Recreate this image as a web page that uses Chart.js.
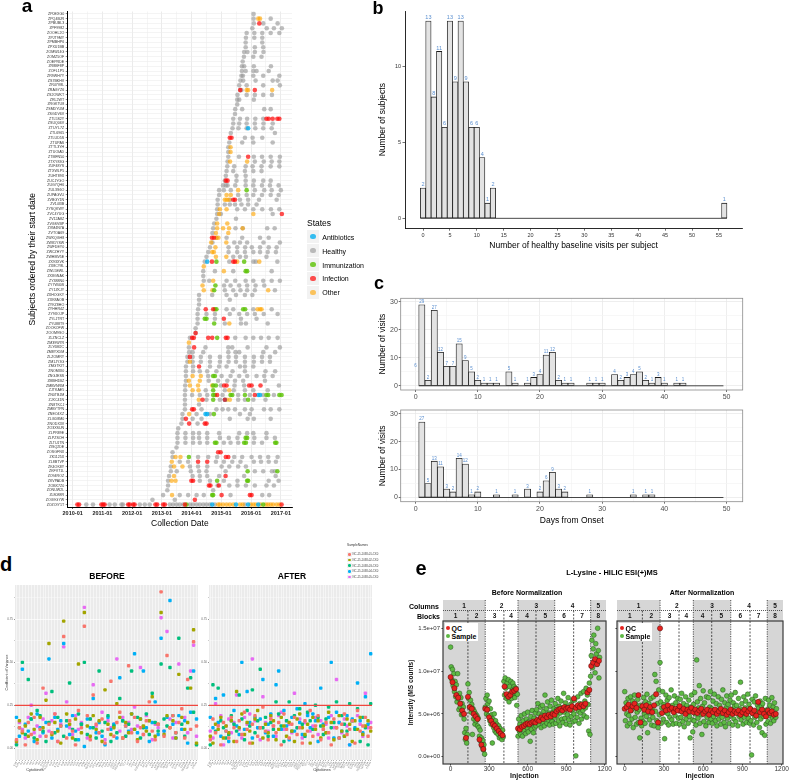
<!DOCTYPE html>
<html><head><meta charset="utf-8">
<title>Figure</title>
<script src="https://cdn.jsdelivr.net/npm/chart.js@4.4.1/dist/chart.umd.min.js"></script>
<style>
html,body{margin:0;padding:0;background:#fff}
body{width:790px;height:780px;position:relative;overflow:hidden;font-family:"Liberation Sans",Arial,sans-serif;color:#000}
canvas{position:absolute;display:block}
.t{position:absolute;line-height:1;white-space:nowrap;transform:translate(-50%,-50%)}
.t.l{transform:translate(0,-50%)}
.sq{position:absolute}
.dot{position:absolute;border-radius:50%}
</style></head>
<body>
<canvas id="ca" width="300" height="535" style="left:0;top:0"></canvas>
<canvas id="cb" width="418" height="258" style="left:372px;top:0"></canvas>
<canvas id="cc1" width="418" height="143" style="left:372px;top:262px"></canvas>
<canvas id="cc2" width="418" height="125" style="left:372px;top:405px"></canvas>
<canvas id="cd1" width="202" height="205" style="left:0;top:575px"></canvas>
<canvas id="cd2" width="185" height="205" style="left:195px;top:575px"></canvas>
<canvas id="ce1" width="214" height="195" style="left:398px;top:585px"></canvas>
<canvas id="ce2" width="178" height="195" style="left:612px;top:585px"></canvas>
<script>
// ================= Panel a : visits per subject =================
const subjects = ["ZP0EXG0","ZPQ4BJR","ZPBUBL3","ZPF9982","ZOOHL2O","ZPJT9MY","ZPMBHP6","ZPXU1BB","ZOMWJ4G","ZOMZ5OF",
"ZOEPRDE","ZR8BF8P","ZOFL1P5","ZR9WH7Y","ZS7BKHV","ZR47V8L","ZRAGYZ6","ZS2OWKT","ZRL2WT","ZRGKTU8",
"ZSMDYUM","ZSGDV6V","ZTL5S2Y","ZSUQ06V","ZTUYL7Z","ZTL6965","ZTLUD5S","ZTUPAS","ZTTL3YH","ZTUOIAD",
"ZTMFN50","ZTXY83G","ZUF48YS","ZTXWLP5","ZUHT89X","ZUCJYGO","ZUG7QH6","ZUL3S6O","ZUPAGVU","ZVBGY1N",
"ZV14I3B","ZYSQKWY","ZVC4YUG","ZV12A8Z","ZVGSVBP","ZVM4N7A","ZVTOA69","ZWXQGH8","ZW81YSW","ZWFDEY0",
"ZWCZHYY","ZWHMV5E","ZX93XVK","ZX8CY8L","ZWL5EWL","ZX8GNAK","ZY388N0","ZY7W40S","ZY1ZKJY","ZXHOGKY",
"ZXK8AOB","ZYKZ8HO","ZYHHR4Z","ZY9XOJP","ZYLJTRT","ZYU88T9","ZOOKOFW","ZOOM9SO","ZLZNCLZ","ZM39W7R",
"ZLY6M2C","ZM8YXDM","ZLZOMRY","ZM1JY3G","ZMGTKIT","ZNOMXI0","ZNGJESS","ZMBH1BZ","ZMBVNRM","ZJTKAE5",
"ZN0TBJM","ZJXC41N","ZN8TKCJ","ZMBYTPN","ZNEO4XZ","ZLGD8M0","ZNODX3V","ZO3XSUN","ZLPR89E","ZLPZSOH",
"ZLTUJTN","ZISQ2DE","ZOSGFNX","ZK1125X","ZL8BTVP","ZK4OK8Y","ZKFV71L","ZO94ROZ","ZKVPADB","ZOBX7Z0",
"ZONUW2L","ZL8088R","ZOG9GYW","ZOZOIY1T"];
// each token: state code + months since 2010-01 (a=Antibiotics h=Healthy m=Immunization i=Infection o=Other)
const visitLog = [
"h73","h73 o74.9 o75.6 h79.9","h73.1 i75.3 h76.9 h82.7","h72.5 h78.3 h81.2 h84.4","h70.2 h73.3 h76.5 h79.9 h83.4",
"h69.9 h73.3 h76.5","h69.8 h76.5","h69.8 h73.5 h76.9","h69.2 h70.5 h73.5 h77","h69.1 h72.9 h76.2",
"h68.6","h68.3 h69.2 h73.1 h80","h68.3 h69.8 h72.9 h74.2 h79.1","h68.1 h68.7 h72.9 h76.9 h83.4","h67.7 h68.8 h73.8 h80.7 h82.7",
"h67.2 h70.2 h76.9 h83.6","h67.6 i67.6 h68.1 o70.2 o70.8 i73.5 o80.5","h66.5 h70.2 h73.5 h76.9 h80.4","h66.4 h67.2 h73.1","h66.4",
"h65.6 h68.4 h77.3 h79.9","h65.5","h64.8 h67.5 h70.4 h73.7 h76.9 i78.2 i79.1 i80.7 i82.6 i83.4","h64.8 h67.2 h70.2 h73.5 h77 h80.7","h64.5 h66.9 h70.2 a70.8 h73.7 h76.9 h80.3",
"h63.8 h81.6","i63.4 i64.1 h69.5 h72.6 h76.5","h63.2 h68.4 h72.9 h80.7","h62.8 o63.7","h62.8 o63.7",
"h62.8 h67.1 i70.8 h73.1 h76.4 h79.9 h83.6","h62.5 o63.5 o70.4 h73.5 h77.1 h80.3 h83.4","h62.4 h65.2 h69.8 h72.6 h76.2 h79.9 h83.4","h62.1 h64.8 h69.5 h72.9 h76.2","h61.8 h66.1 h69.8",
"h61.4 i61.8 i62.5 h66.1 h69.8 h73.1 h76.9 h79.9","h60.7 h61.8 h62.5 h65.6 h69.8 h72.9 h76.4 h79.6 h83.1","h59.1 h61 h63.8 o66.8 m70.2 h73.5 h77.3 h80.3 h84","h59.1 o62.1 o63.8 h66.8 h70.2 h72.9 h76.4 h79.9 h83.1","h58.5 o61.4 o62.1 h63.5 o63 i64.8 i65.5 h67.5 h70.8 h75.2 h82.3",
"h58.5 h61.4 h63.4 h65.5 h68.1 h70.8 h74.2","h58.3 o59.4 o62.1 h66.4 h69.5 h72.9 h76.5 h80 h83.4","h58.3 o59.1 h59.8 o72.9 h80.7 i84.4","h58 h65.9","h57.1 o58.3 o62.4",
"h56.7 o58.3 o60.7 o63.1 h65.7 h68.6 o68.6 h78.5 h81.5","h56.4 o57.8 o62.8","i56.2 i57 h58 o58 o58.8 h62.1 h68.4 h75.6 h79.1","o55.9 h56.4 o62 h65.2 h67.5 h70.4 h77 h83.6","h55.4 o57.6 h62.9 h66.4 h69.6 h72.3 h75.6 h79.1 h82.3",
"h54.7 o56.3 o57 h62.9 h66.4 h69.5 h72.9 h75.6 h78.7 h82","h54 o57.8 o62 h64.8 h67.5 h69.9 h78.2","h53.3 a54.3 i56.2 m58 h63.2 i64.8 i65.5 o66.4 m69.2 h72.9 h73.9 o75.3 h82.6","o52.9","h52.7 h57.4 o61 h64.8 m69.8 m70.4 h80.3",
"h52.7","h52.9 h55.1 o56.7 h62.1 h65.6 h69.8 h72.9 h76.9 h80.3 h83.6","o52.4 m57.6 h61.1 h63.7 h67.2 h70.4 h73.8 h77.3","o52.9 o56.4 m57.1 h61.4 h64.8 h67.7 h70.4 h73.5 o78.9 h81.6","h51 h56.3 h62.1 h65.9 h69.5 h72.5",
"h51 h63.4","h51","h50.6 i53.7 i56.7 m57.4 m58 h62.1 h64.8 m68.8 m69.6 h72.9 o74.6 o75.6 o76.2 h80.3","h50.4 h54 h57.4 h63.4 h67.2 h70.4 h73.5 h77.1 h82.7","h50.4 m53.3 m54 h57.4 i61 h67.9 h74.2",
"h50.4 m57.1 h61.4 o63.2 h67.9 h69.9 h78.7","h49.6","h49.6 i49.6","h47.3 i48.2 i48.9 i54.7 i56.3 m58.3 i61.8 i62.5 h65.6 h69.8 h72.9 h76 h79.1 h82.7","o46.9",
"h46.9 i49 h53.6 h62.8 h64.4 h70.6 h78.2 h83.6","h47 h48.4 h52.7 h62.8 h65.7 h67.2 h76.9 h81.7","h46.3 i47.3 h48.4 h51.7 h55.4 h59.4 h62.9 h65.9 h69.5 h73.1 h76.4 h79.6","h46.3 o47.3 h48.4 h51.7 h55.4 h59.4 h62.9 h65.9 h69.5 h73.1 h76.4 h79.6","h45.7 h48.6 i51 h55.4 h59.1 h62.1 h67.5 h69.5 h72.9",
"h45.7 h48.6 h51.3 h54.3 h58 h64.5 h69.5 h77.8 h81.7","h45.7 o48.4 o51.7 h54.7 m56.7 m57.4 h60.1 h63.7 h67.2 h70.4 h74.2 h77.3 h80.7","h45.7 o46.9 o51.3 h54.9 h58.7 h62.4 h65.5 h68.8 h77.6","h45.4 o47.3 o50.6 o56.3 m56.7 m57.8 h59.8 i61.1 i62.1 h65.3 h69.2 i71.2 i72.2 i75.8 h83.2","h45.4 o48.4 o50.8 h53.7 m56.7 h61.4 o63.2 h65 h69.5 h72.9 h78.7",
"h45.3 h48.2 h51.3 h54.3 m56.7 m57.4 i58.3 h60.5 m63.7 m64.4 h66.8 m69.5 h71.5 i73.5 a74.9 a75.6 h76.9 m78.2 m78.9 h81.2 m83.4 m84.3","h45.3 o50.9 i52.4 h54 m56.7 h59.4 a61.4 i61.4 o62.1 o63.4 h66.8 h69.5 m70.8 h72.9 h77.8","h45.3 h51","h45.3 i48.2 i48.9 h52 h58 h60.5 h62.8 h65.5 h69.5 h72.2 h77.2 h79.9 h83.4","h44.3 o47 h50 a53.6 a54.3 h55.4 m57 h67.5 h71.5",
"h44.3 i45.7 h48.4 h52 h63.4 h70.6 h73.1 h79.9","h43.9 i47 h50.4 i53.3 i54","h42.6","h42.3 h45.5 h48.6 h51 h54.3 h59.1 h67.2 h70.4 h72.9 h78.2","h42.3 h45.5 h48.6 h51 h54.3 h59.4 h63 h66.5 m69.8 m70.4 h73.3 h78.2 h81.6",
"h42.3 h45.5 h48.6 h51.3 h54.3 m57.4 m58 h61 h63.7 h66.8 m69.2 m69.9 h73.1 h76.4 m81.7 m82.2","h41.9","h40.3 i58.7 i59.7","h40.3 o41.5 o43.5 m46.9 h50.6 h54.7 h58.3 i61.8 i62.8 h65.2 h68.4 h72.2 h75.6 h78.9 h82.7","o40 h43.2 h46.6 i50.6 i54.3 h57.8 h61 h64.4 h67.7 h73.1 h76 h79.1 h82",
"h39.6 o40.9 o44.3 h47.3 h50.6 h54.3 h60.1 h63.2 h66.8 h69.9","h39.6 h42 h47.7 h51 h54 h61.7 m70.6 h73.5 h76.9 h80.4 h81.6 m82.6","h38.9 o40.9 h48.4 h51.3 h54.3 h59.1 i61.7 h69.2 h81.9","h38.5 o39.9 o41.5 i47.9 i48.6 h51.3 h55.4 m58.3 h61 h66.5 m70.4 m70.8 h79.1 h83.1","h38.5 i55 i55.6 h58.5 i59 h63.2 h66.5 h69.9 h73.5 h78.2 h81.2",
"h38.2 h56.7","h36.5 o40.1 h43.2 h46.6 h50 h52.9 m56.3 m56.7 i60.1 h63.7 i71.5 i72.2 h76.5 h79.3","h32.2 h41.2 i49.3",
"i1.9 i2.6 h5.5 h8.2 i11.6 i12.3 i12.9 h14.9 h17 h19.7 h20.3 i22.4 i23 i24.4 i25 h27.1 h29.1 h31.1 i33.4 i34.1 i36.5 i37.2 h39.2 h40.5 h41.9 h43.2 h44.6 i45.3 m45.9 h47.3 h48.6 h50 h51.3 h52.7 h54 h55.4 a56.3 h57.4 o58.7 o59.4 o60.7 o62.1 o63.4 o64.8 a65.9 o67.5 o68.6 h69.5 a70.8 o71.8 o72.9 o73.9 a74.9 o75.8 m76.9 o78 o78.9 o79.9 o80.9 o82.3 o83.4 i84.3"
];
const stateNames = ["Antibiotics","Healthy","Immunization","Infection","Other"];
const stateKeys = ["a","h","m","i","o"];
const dateLabels = ["2010-01","2011-01","2012-01","2013-01","2014-01","2015-01","2016-01","2017-01"];
const dateGrid = [0,6,12,18,24,30,36,42,48,54,60,66,72,78,84];

// ================= Panel b =================
const bVisits = [0,1,2,3,4,5,6,7,8,9,10,11,12,13,56];
const bSubjects = [2,13,8,11,6,13,9,13,9,6,6,4,1,2,1];
const bBinRange = [-0.5,56.5];
const bTicksX = [0,5,10,15,20,25,30,35,40,45,50,55];
const bTicksY = [0,5,10];

// ================= Panel c =================
const cTopDays = [0,1,2,3,4,5,6,7,8,9,10,11,12,13,15,16,18,19,20,21,22,23,24,25,28,29,30,32,33,34,35,36,37,38,39,40,42,43];
const cTopCounts = [6,29,2,27,12,7,7,15,9,5,2,1,1,1,5,1,1,3,4,11,12,2,1,1,1,1,1,4,2,3,4,5,2,1,3,1,1,1];
const cBotDays = [1,2,3,4,5,6,7,8,9,10,13,16,18,20,21,22,23,24,28,35,37,38];
const cBotCounts = [27,5,13,11,3,2,14,12,1,2,1,1,3,2,6,9,3,2,1,1,1,1];
const cBinRange = [0.5,49.5];
const cTicksX = [0,5,10,15,20,25,30,35,40,45,50];
const cTicksY = [0,5,10,15,20,25,30];

// ================= Panel d =================
const cytokines = ["IL1B","IL1RA","IL2","IL4","IL5","IL6","IL7","IL8","IL9","IL10","IL12P40","IL12P70","IL13","IL15","IL17A","IL17F","IL18","IL21","IL22","IL23","IL27","IL31","IFNA","IFNB","IFNG","GMCSF","GCSF","MCSF","TNFA","TNFB","TRAIL","TGFA","TGFB","VEGF","VEGFD","PDGFBB","NGF","SCF","LIF","HGF","FGFB","EGF","EOTAXIN","IP10","MCP1","MCP3","MIG","MIP1A","MIP1B","RANTES","GROA","ENA78","SDF1A","PAI1","ICAM1","VCAM1","FASL","CD40L","RESISTIN","LEPTIN","IL1A","CHEX1"];
const sampleNames = ["NC-15-1038-01-CX0","NC-15-1038-02-CX0","NC-15-1038-03-CX0","NC-15-1038-04-CX0","NC-15-1038-05-CX0"];
const sampleColors = ["#F8766D","#A3A500","#00BF7D","#00B0F6","#E76BF3"];
const cvBefore1 = [0.05,0.12,0.10,0.02,0.15,0.08,0.18,0.03,0.11,0.35, 0.07,0.14,0.09,0.20,0.04,0.13,0.65,0.06,0.16,0.10, 0.02,0.22,0.12,0.71,0.19,0.05,0.31,0.14,0.09,0.17, 0.03,0.11,0.39,0.07,0.15,0.21,0.06,0.13,0.48,0.09, 0.18,0.04,0.12,0.08,0.16,0.27,0.10,0.05,0.14,0.91, 0.07,0.54,0.12,0.19,0.09,0.15,0.23,0.06,0.40,0.11, 0.62,0.13];
const cvBefore2 = [0.04,0.16,0.09,0.13,0.07,0.20,0.11,0.05,0.18,0.12, 0.28,0.61,0.08,0.15,0.10,0.03,0.74,0.20,0.14,0.06, 0.17,0.49,0.09,0.79,0.13,0.07,0.19,0.11,0.16,0.04, 0.34,0.14,0.08,0.12,0.26,0.18,0.06,0.15,0.09,0.20, 0.11,0.05,0.17,0.13,0.10,0.16,0.30,0.07,0.14,0.79, 0.08,0.19,0.12,0.16,0.06,0.43,0.18,0.11,0.15,0.35, 0.69,0.03];
const cvBefore3 = [0.02,0.12,0.50,0.08,0.40,0.17,0.06,0.22,0.19,0.10, 0.04,0.15,0.33,0.09,0.18,0.13,0.07,0.16,0.38,0.11, 0.05,0.20,0.14,0.50,0.08,0.17,0.12,0.06,0.45,0.10, 0.15,0.19,0.04,0.13,0.09,0.29,0.16,0.07,0.14,0.45, 0.11,0.18,0.06,0.12,0.20,0.08,0.32,0.15,0.10,0.49, 0.17,0.13,0.47,0.19,0.09,0.64,0.14,0.07,0.35,0.41, 0.21,0.02];
const cvBefore4 = [0.18,0.07,0.46,0.14,0.10,0.17,0.04,0.20,0.12,0.09, 0.15,0.52,0.06,0.18,0.11,0.16,0.61,0.13,0.08,0.19, 0.10,0.05,0.14,0.01,0.17,0.12,0.29,0.09,0.15,0.07, 0.02,0.18,0.11,0.14,0.06,0.41,0.16,0.13,0.10,0.20, 0.55,0.09,0.17,0.45,0.12,0.04,0.15,0.27,0.08,0.64, 0.10,0.18,0.86,0.14,0.06,0.19,0.11,0.16,0.03,0.21, 0.45,0.17];
const cvBefore5 = [0.03,0.15,0.11,0.06,0.18,0.25,0.09,0.13,0.07,0.17, 0.32,0.10,0.16,0.20,0.04,0.14,0.59,0.27,0.12,0.08, 0.19,0.11,0.15,0.82,0.06,0.17,0.37,0.13,0.09,0.21, 0.05,0.16,0.12,0.14,0.52,0.10,0.18,0.07,0.15,0.11, 0.24,0.13,0.47,0.08,0.19,0.16,0.05,0.14,0.12,0.76, 0.10,0.68,0.17,0.06,0.15,0.49,0.11,0.18,0.09,0.45, 0.60,0.07];
const cvAfter1 = [0.05,0.17,0.09,0.13,0.02,0.15,0.10,0.06,0.18,0.12, 0.04,0.16,0.08,0.21,0.11,0.03,0.14,0.19,0.07,0.12, 0.24,0.10,0.05,0.17,0.13,0.09,0.15,0.02,0.20,0.11, 0.06,0.14,0.18,0.08,0.12,0.03,0.16,0.10,0.22,0.07, 0.13,0.19,0.05,0.11,0.15,0.09,0.02,0.17,0.12,0.06, 0.14,0.20,0.08,0.11,0.16,0.03,0.22,0.10,0.13,0.18, 0.07,0.12];
const cvAfter2 = [0.07,0.03,0.14,0.11,0.18,0.06,0.13,0.09,0.16,0.04, 0.33,0.12,0.20,0.08,0.15,0.10,0.03,0.17,0.22,0.12, 0.06,0.14,0.09,0.19,0.16,0.05,0.11,0.18,0.13,0.07, 0.15,0.10,0.04,0.17,0.20,0.12,0.08,0.14,0.03,0.18, 0.11,0.16,0.06,0.13,0.09,0.21,0.15,0.05,0.12,0.19, 0.10,0.07,0.17,0.14,0.04,0.16,0.11,0.18,0.08,0.13, 0.16,0.10];
const cvAfter3 = [0.02,0.37,0.10,0.35,0.16,0.12,0.06,0.08,0.19,0.14, 0.10,0.31,0.17,0.05,0.22,0.13,0.34,0.09,0.16,0.46, 0.12,0.18,0.07,0.15,0.11,0.27,0.20,0.13,0.04,0.16, 0.27,0.10,0.19,0.12,0.23,0.14,0.07,0.21,0.16,0.11, 0.25,0.18,0.13,0.08,0.17,0.24,0.12,0.15,0.27,0.06, 0.19,0.14,0.10,0.26,0.16,0.11,0.23,0.04,0.18,0.12, 0.02,0.26];
const cvAfter4 = [0.18,0.12,0.29,0.15,0.07,0.31,0.10,0.04,0.16,0.22, 0.13,0.08,0.50,0.11,0.33,0.15,0.06,0.18,0.12,0.17, 0.40,0.09,0.14,0.20,0.07,0.37,0.45,0.11,0.22,0.13, 0.05,0.18,0.10,0.23,0.15,0.08,0.26,0.19,0.12,0.20, 0.16,0.04,0.35,0.14,0.09,0.18,0.50,0.06,0.21,0.15, 0.10,0.07,0.19,0.02,0.17,0.12,0.38,0.16,0.09,0.30, 0.14,0.55];
const cvAfter5 = [0.10,0.06,0.26,0.14,0.19,0.02,0.13,0.17,0.09,0.15, 0.31,0.11,0.06,0.18,0.14,0.20,0.52,0.16,0.12,0.05, 0.30,0.15,0.10,0.18,0.13,0.07,0.19,0.21,0.11,0.16, 0.14,0.09,0.32,0.12,0.17,0.06,0.15,0.20,0.10,0.13, 0.18,0.08,0.16,0.11,0.14,0.06,0.19,0.12,0.40,0.15, 0.09,0.17,0.13,0.02,0.16,0.11,0.19,0.14,0.07,0.32, 0.12,0.15];
const cvThreshold = 0.25;
const cvTicks = [0,0.125,0.25,0.375,0.5,0.625,0.75,0.875];

// ================= Panel e (intensities in 1e6 MS counts) =================
const sampleEvery = 5;   // sample injections read at 0,5,10,...
const qcEvery = 15;      // QC injections read at 0,15,30,...
const sampleBefore = [
12.8,10.5,9.0,10.2,8.3,9.7,7.6,8.8,7.0,8.4,6.4,9.7,6.8,5.5,7.4,5.8,6.9,4.9,6.2,5.0,5.8,4.4,2.8,2.0,3.3,1.6,2.6,
8.5,6.8,7.5,5.8,6.6,5.2,6.1,2.6,5.6,4.4,5.3,3.8,5.0,4.2,4.8,3.6,4.5,3.4,2.4,3.1,1.8,2.2,1.2,1.9,0.8,1.4,0.3,
5.8,6.8,5.0,7.2,6.2,4.8,6.5,4.2,5.6,3.8,4.9,1.6,4.4,3.4,5.0,3.0,4.2,2.8,3.8,3.2,2.6,3.6,2.2,3.3,2.4,2.9,2.0,3.1,2.3,
8.8,7.2,9.2,8.0,6.8,8.6,7.0,9.0,6.4,8.2,7.4,8.8,6.8,7.8,8.6,7.2,8.2,6.9,8.0,7.4,6.0,7.3,
2.4,4.4,3.0,3.8,2.6,4.8,3.3,2.4,4.2,3.1,5.0,3.6,2.7,4.4,3.4,5.2,2.9,4.1,3.6,1.8,4.7,3.2,5.4,3.9,2.8,4.5,3.4,5.1,
3.6,5.5,4.2,6.2,3.8,5.0,4.4,5.8,3.4,4.8,6.0,4.0,5.3,3.6,7.2,4.6,5.6,3.9,6.4,4.3,5.1,3.7,5.9,4.5,6.6,4.1,5.2,3.8,5.6,
4.6,6.2,3.9,5.5,4.8,6.8,4.2,5.9,3.6,5.1,6.5,4.4,5.7,4.0,7.4,5.2,4.5,6.3,3.8,5.8,4.9,6.9,4.3,5.5,3.7,6.1,4.7,5.4,6.6,4.1,
5.0,6.6,4.2,0.1,5.8,4.6,7.0,5.3,3.9,6.2,5.1,7.4,4.4,6.0,5.4,7.6,4.8,6.5,5.7,8.0,4.6,7.2,6.1,3.0,8.6,2.6,
9.4,11.8,13.6,10.4,12.6,14.2,11.2,9.8,13.2,12.0,10.8,15.0,12.4,9.2,11.6];
const qcBefore = [
9.3,8.7,8.0,7.2,6.9,6.2,5.4,5.0,2.2,7.0,
5.8,5.6,5.0,4.7,4.4,2.0,1.4,0.9,
5.6,5.5,4.6,4.2,3.8,3.6,3.3,3.0,2.7,2.5,
8.2,7.3,7.0,7.2,7.6,7.7,7.9,
3.3,3.2,3.5,3.6,3.8,3.9,3.8,4.0,4.1,4.0,
4.3,4.2,4.6,4.4,4.8,4.6,4.9,4.7,5.0,
4.9,5.3,5.5,5.6,5.4,5.8,5.6,5.7,5.5,5.9,
6.8,5.7,6.0,5.8,6.1,5.9,6.2,7.5,7.8,
10.6,11.0,11.4,10.8,11.2];
const sampleAfter = [
7.6,4.2,6.3,5.0,3.6,6.8,4.8,5.9,3.9,7.0,5.4,4.4,6.5,3.4,5.7,7.2,4.6,6.1,3.8,5.2,6.7,4.0,5.5,2.2,6.0,4.5,3.6,
5.8,4.1,6.9,5.0,3.9,6.4,4.7,7.3,2.8,5.6,6.2,4.3,5.1,6.8,3.7,5.5,4.6,7.0,3.6,9.6,5.3,8.8,4.2,6.2,3.4,7.8,4.9,
11.0,6.4,3.9,5.7,7.6,4.4,6.1,2.1,5.2,7.2,4.0,6.6,5.0,3.7,6.9,4.6,5.8,7.8,4.3,6.0,3.8,5.4,7.1,4.8,6.3,3.9,5.6,6.8,4.5,
5.9,3.8,6.7,4.6,7.4,5.2,4.1,6.2,3.5,5.6,7.0,4.4,6.0,5.0,3.9,6.6,4.7,2.2,5.8,7.2,4.3,2.9,
6.1,4.2,7.5,5.0,3.7,11.3,6.4,4.5,5.7,8.3,3.9,6.8,4.9,2.6,5.9,7.7,4.1,6.3,5.2,3.6,7.0,4.6,5.5,6.9,4.0,5.8,7.6,4.4,
5.6,3.9,6.5,4.7,7.3,5.1,4.2,6.2,3.6,5.4,7.0,4.4,6.0,5.0,3.8,6.7,4.6,7.8,5.3,4.0,6.3,3.5,5.7,7.1,4.5,6.1,5.2,3.9,6.6,
4.8,7.2,5.5,3.7,6.3,4.4,5.9,7.5,4.1,6.0,5.1,3.6,6.8,4.7,5.6,8.7,4.3,6.2,5.0,3.8,7.0,4.6,5.7,6.5,4.0,5.3,7.3,4.5,6.1,3.9,
5.6,4.2,0.2,6.7,5.0,3.7,6.4,4.6,7.1,5.3,4.0,6.0,4.8,5.7,3.4,6.5,4.4,5.9,2.8,6.2,4.7,5.4,2.5,6.8,3.8,5.1,
5.5,4.1,6.6,4.8,6.0,3.9,5.3,6.9,4.5,5.8,4.2,6.3,5.0,4.6,5.6];
const qcAfter = [
5.6,5.8,6.1,5.4,5.9,6.2,5.7,7.2,4.0,5.9,
5.5,6.0,5.3,5.8,5.2,6.0,7.3,4.0,15.0,5.1,
5.8,5.4,6.0,5.5,5.7,5.2,5.6,5.4,5.9,5.3,
5.6,5.0,5.5,5.3,5.7,5.2,5.5,5.1,5.4,5.6,
5.0,5.3,5.5,4.9,5.4,5.2,5.5,5.0,5.3,5.6,
5.1,5.4,4.9,5.2,5.5,5.0,5.3,5.1,5.4,4.9,
5.2,5.5,5.0,5.3,5.6,5.1,5.4,4.8,6.4,5.2,
5.5,5.0,4.7,5.4,5.1,5.3,4.9,5.0];
const columnBreaks = [270,525,810,1090];
const columnLabels = ["1","2","3","4","5"];
const blockBreaks = [135,270,415,525,665,810,958,1090];
const blockLabels = ["1","2","3","4","4","5","6","7","8"];
const injTicks = [0,300,600,900,1200];
const intensityTicks = [0,5e6,1e7,1.5e7];

// ================= helpers =================
Chart.defaults.font.family = '"Liberation Sans", Arial, sans-serif';
Chart.defaults.animation = false;
Chart.defaults.responsive = false;
Chart.defaults.plugins.legend.display = false;
Chart.defaults.plugins.tooltip.enabled = false;
Chart.defaults.color = '#333';

function txt(s, x, y, size, bold, cls, color) {
  const d = document.createElement('div');
  d.className = 't' + (cls ? ' ' + cls : '');
  d.textContent = s;
  d.style.left = x + 'px'; d.style.top = y + 'px'; d.style.fontSize = size + 'px';
  if (bold) d.style.fontWeight = 'bold';
  if (color) d.style.color = color;
  document.body.appendChild(d);
  return d;
}
function box(x, y, w, h, bg, round) {
  const d = document.createElement('div');
  d.className = round ? 'dot' : 'sq';
  Object.assign(d.style, {left: x + 'px', top: y + 'px', width: w + 'px', height: h + 'px', background: bg});
  document.body.appendChild(d);
  return d;
}
const fixTicks = arr => s => { s.ticks = arr.map(v => ({value: v})); };
const plain = v => String(v);
const frame = (color, lw) => ({id: 'frame', afterDraw(c) {
  const a = c.chartArea, g = c.ctx; g.save(); g.strokeStyle = color; g.lineWidth = lw;
  g.strokeRect(a.left, a.top, a.right - a.left, a.bottom - a.top); g.restore(); }});
const panelBg = color => ({id: 'panelBg', beforeDraw(c) {
  const a = c.chartArea, g = c.ctx; g.save(); g.fillStyle = color;
  g.fillRect(a.left, a.top, a.right - a.left, a.bottom - a.top); g.restore(); }});
const barLabels = size => ({id: 'barLabels', afterDatasetsDraw(c) {
  const meta = c.getDatasetMeta(0), ds = c.data.datasets[0], g = c.ctx;
  g.save(); g.fillStyle = '#5b8fcf'; g.font = size + 'px "Liberation Sans", Arial'; g.textAlign = 'center'; g.textBaseline = 'bottom';
  meta.data.forEach((el, i) => { const v = ds.data[i].y; g.fillText(String(v), el.x, c.scales.y.getPixelForValue(v) - 0.6); });
  g.restore(); }});

// ================= Panel a chart =================
const stateColors = {a: 'rgba(0,174,239,0.78)', h: 'rgba(150,150,150,0.62)', m: 'rgba(95,195,10,0.82)', i: 'rgba(255,10,10,0.72)', o: 'rgba(255,165,0,0.62)'};
const aPoints = {}; stateKeys.forEach(k => aPoints[k] = []);
visitLog.forEach((row, i) => row.trim().split(/\s+/).forEach(tok => aPoints[tok[0]].push({x: parseFloat(tok.slice(1)), y: i})));
const drawOrder = ['i', 'a', 'm', 'o', 'h'];
new Chart(document.getElementById('ca'), {
  type: 'scatter',
  data: {datasets: drawOrder.map(k => ({label: stateNames[stateKeys.indexOf(k)], data: aPoints[k], pointRadius: 2.3, pointBorderWidth: 0, backgroundColor: stateColors[k]}))},
  options: {
    events: [],
    layout: {padding: {left: 0, top: 11.5, right: 8, bottom: 0}},
    scales: {
      x: {type: 'linear', min: -2.0, max: 88.5, afterBuildTicks: fixTicks(dateGrid), afterFit: s => { s.height = 28; },
        ticks: {autoSkip: false, maxRotation: 0, minRotation: 0, padding: 1, color: '#222', font: {size: 5.5, weight: 'bold'}, callback: v => v % 12 === 0 ? dateLabels[v / 12] : ''},
        grid: {color: c => (c.tick && c.tick.value % 12 === 0) ? '#e2e2e2' : '#f0f0f0', lineWidth: 0.7, tickLength: 2, tickColor: c => (c.tick && c.tick.value % 12 === 0) ? '#222' : 'rgba(0,0,0,0)'},
        border: {display: true, color: '#000', width: 1},
        title: {display: true, text: 'Collection Date', color: '#000', font: {size: 8.5, lineHeight: 1}, padding: {top: 0, bottom: 7.5}}},
      y: {type: 'linear', reverse: true, min: -0.5, max: subjects.length - 0.5, afterBuildTicks: fixTicks(subjects.map((_, i) => i)), afterFit: s => { s.width = 67.7; },
        ticks: {autoSkip: false, padding: 1.5, color: '#333', font: {size: 3.6}, callback: v => subjects[v]},
        grid: {color: '#ececec', lineWidth: 0.6, tickLength: 2, tickColor: '#444'},
        border: {display: true, color: '#000', width: 1},
        title: {display: true, text: 'Subjects ordered by their start date', color: '#000', font: {size: 8.5, lineHeight: 1}, padding: {top: 28.7, bottom: 0}}}
    }
  }
});

// ================= Panel b chart =================
new Chart(document.getElementById('cb'), {
  type: 'bar',
  data: {datasets: [
    {type: 'bar', data: bVisits.map((v, i) => ({x: v, y: bSubjects[i]})), backgroundColor: '#e3e3e3', borderColor: '#1a1a1a', borderWidth: 0.8, borderSkipped: false, barPercentage: 1, categoryPercentage: 1},
    {type: 'line', data: bBinRange.map(v => ({x: v, y: 0})), borderColor: '#1a1a1a', borderWidth: 0.8, pointRadius: 0}
  ]},
  options: {
    events: [],
    layout: {padding: {left: 0, top: 11.2, right: 47.7, bottom: 0}},
    scales: {
      x: {type: 'linear', min: -3.35, max: 59.35, offset: false, afterBuildTicks: fixTicks(bTicksX), afterFit: s => { s.height = 29.8; },
        ticks: {autoSkip: false, maxRotation: 0, padding: 1, color: '#333', font: {size: 5.5}, callback: plain},
        grid: {drawOnChartArea: false, offset: false, tickLength: 2.5, tickColor: '#333', lineWidth: 0.7},
        border: {display: true, color: '#111', width: 0.9},
        title: {display: true, text: 'Number of healthy baseline visits per subject', color: '#000', font: {size: 8.5, lineHeight: 1}, padding: {top: 0, bottom: 8}}},
      y: {type: 'linear', min: -0.65, max: 13.65, afterBuildTicks: fixTicks(bTicksY), afterFit: s => { s.width = 33; },
        ticks: {padding: 1.5, color: '#333', font: {size: 5.5}, callback: plain},
        grid: {drawOnChartArea: false, tickLength: 2.5, tickColor: '#333', lineWidth: 0.7},
        border: {display: true, color: '#111', width: 0.9},
        title: {display: true, text: 'Number of subjects', color: '#000', font: {size: 8.5, lineHeight: 1}, padding: {top: 6.75, bottom: 0}}}
    }
  },
  plugins: [barLabels(5.5)]
});

// ================= Panel c charts =================
function cChart(id, days, counts, padTop, xHeight, xTitle) {
  const hidden = ctx => days[ctx.dataIndex] < cBinRange[0];
  return new Chart(document.getElementById(id), {
    type: 'bar',
    data: {datasets: [
      {type: 'bar', data: days.map((d, i) => ({x: d, y: counts[i]})), backgroundColor: ctx => hidden(ctx) ? 'rgba(0,0,0,0)' : '#e3e3e3', borderColor: ctx => hidden(ctx) ? 'rgba(0,0,0,0)' : '#1a1a1a', borderWidth: 0.8, borderSkipped: false, barPercentage: 1, categoryPercentage: 1},
      {type: 'line', data: cBinRange.map(v => ({x: v, y: 0})), borderColor: '#1a1a1a', borderWidth: 0.8, pointRadius: 0}
    ]},
    options: {
      events: [],
      layout: {padding: {left: 0, top: padTop, right: 47.3, bottom: 0}},
      scales: {
        x: {type: 'linear', min: -2.4, max: 52.6, offset: false, afterBuildTicks: fixTicks(cTicksX), afterFit: s => { s.height = xHeight; },
          ticks: {autoSkip: false, maxRotation: 0, padding: 1.2, color: '#4d4d4d', font: {size: 7, lineHeight: 1.2}, callback: v => v % 10 === 0 ? String(v) : ''},
          grid: {offset: false, color: c => (c.tick && c.tick.value % 10 === 0) ? '#e6e6e6' : '#f4f4f4', lineWidth: 0.7, tickLength: 2, tickColor: c => (c.tick && c.tick.value % 10 === 0) ? '#333' : 'rgba(0,0,0,0)'},
          border: {display: false},
          title: {display: !!xTitle, text: xTitle || '', color: '#000', font: {size: 8.5, lineHeight: 1}, padding: {top: 0, bottom: 5}}},
        y: {type: 'linear', min: -1.5, max: 31.3, afterBuildTicks: fixTicks(cTicksY), afterFit: s => { s.width = 28.7; },
          ticks: {padding: 0.8, color: '#4d4d4d', font: {size: 7}, callback: v => v % 10 === 0 ? String(v) : ''},
          grid: {color: c => (c.tick && c.tick.value % 10 === 0) ? '#e6e6e6' : '#f4f4f4', lineWidth: 0.7, tickLength: 2, tickColor: c => (c.tick && c.tick.value % 10 === 0) ? '#333' : 'rgba(0,0,0,0)'},
          border: {display: false},
          title: {display: true, text: 'Number of visits', color: '#000', font: {size: 8.5, lineHeight: 1}, padding: {top: 6.75, bottom: 0}}}
      }
    },
    plugins: [barLabels(4.5), frame('#8a8a8a', 0.8)]
  });
}
cChart('cc1', cTopDays, cTopCounts, 36.3, 15, null);
cChart('cc2', cBotDays, cBotCounts, 4.3, 28.3, 'Days from Onset');

// ================= Panel d charts =================
const hline = {id: 'hline', afterDatasetsDraw(c) {
  const a = c.chartArea, g = c.ctx, y = c.scales.y.getPixelForValue(cvThreshold);
  g.save(); g.strokeStyle = '#F0473F'; g.lineWidth = 1.1; g.beginPath(); g.moveTo(a.left, y); g.lineTo(a.right, y); g.stroke(); g.restore(); }};
function cvChart(id, series, yWidth, padRight, yTitle) {
  return new Chart(document.getElementById(id), {
    type: 'line',
    data: {labels: cytokines, datasets: series.map((arr, k) => ({label: sampleNames[k], data: arr, showLine: false, pointRadius: 2.0, pointBorderWidth: 0, pointStyle: 'rectRounded', backgroundColor: sampleColors[k], borderColor: sampleColors[k]}))},
    options: {
      events: [],
      layout: {padding: {left: 0, top: 10, right: padRight, bottom: 0}},
      scales: {
        x: {type: 'category', offset: true, afterFit: s => { s.height = 20; },
          ticks: {autoSkip: false, minRotation: 60, maxRotation: 60, padding: 0, color: '#666', font: {size: 2.4}},
          grid: {offset: false, color: '#ffffff', lineWidth: 0.5, tickLength: 1, tickColor: '#666'},
          border: {display: false}},
        y: {type: 'linear', min: -0.068, max: 0.95, afterBuildTicks: fixTicks(cvTicks), afterFit: s => { s.width = yWidth; },
          ticks: {padding: 1, color: '#666', font: {size: 3}, callback: v => (Math.abs(v * 4 - Math.round(v * 4)) < 1e-6) ? v.toFixed(2) : ''},
          grid: {color: '#ffffff', lineWidth: c => (c.tick && Math.abs(c.tick.value * 4 - Math.round(c.tick.value * 4)) < 1e-6) ? 0.7 : 0.35, tickLength: 1, tickColor: '#666'},
          border: {display: false},
          title: {display: !!yTitle, text: yTitle || '', color: '#333', font: {size: 3.6, lineHeight: 1}, padding: {top: 5.2, bottom: 0}}}
      }
    },
    plugins: [panelBg('#ebebeb'), hline]
  });
}
cvChart('cd1', [cvBefore1, cvBefore2, cvBefore3, cvBefore4, cvBefore5], 15, 3, 'Coefficient of Variance');
cvChart('cd2', [cvAfter1, cvAfter2, cvAfter3, cvAfter4, cvAfter5], 14, 8, null);

// ================= Panel e charts =================
const eDecor = {id: 'eDecor',
  beforeDatasetsDraw(c) {
    const g = c.ctx, a = c.chartArea, s = c.scales.x;
    const px = v => Math.max(a.left, Math.min(a.right, s.getPixelForValue(v)));
    const top0 = a.top - 21, mid = a.top - 10.5;
    const colEdges = [s.min, ...columnBreaks, s.max];
    const blkEdges = [s.min, ...blockBreaks, s.max];
    g.save();
    columnLabels.forEach((lab, k) => {
      const x0 = px(colEdges[k]), x1 = px(colEdges[k + 1]);
      g.fillStyle = k % 2 === 0 ? '#d6d6d6' : '#ffffff';
      g.fillRect(x0, top0, x1 - x0, a.bottom - top0);
    });
    g.fillStyle = '#111'; g.font = 'bold 6.5px "Liberation Sans", Arial'; g.textAlign = 'center'; g.textBaseline = 'middle';
    columnLabels.forEach((lab, k) => g.fillText(lab, (px(colEdges[k]) + px(colEdges[k + 1])) / 2, (top0 + mid) / 2 + 0.5));
    blockLabels.forEach((lab, k) => g.fillText(lab, (px(blkEdges[k]) + px(blkEdges[k + 1])) / 2, (mid + a.top) / 2 + 0.5));
    g.strokeStyle = '#333'; g.lineWidth = 0.8; g.setLineDash([1, 1]);
    g.beginPath(); g.moveTo(a.left, mid); g.lineTo(a.right, mid); g.stroke();
    g.setLineDash([2, 1.5]); g.strokeStyle = '#111'; g.lineWidth = 0.7;
    blockBreaks.filter(b => !columnBreaks.includes(b)).forEach(b => { const x = px(b); g.beginPath(); g.moveTo(x, mid); g.lineTo(x, a.bottom); g.stroke(); });
    g.setLineDash([1.2, 1.2]); g.strokeStyle = '#666'; g.lineWidth = 1.2;
    columnBreaks.forEach(b => { const x = px(b); g.beginPath(); g.moveTo(x, top0); g.lineTo(x, a.bottom); g.stroke(); });
    g.restore();
  }
};
function eChart(id, samples, qc, showY, padRight) {
  return new Chart(document.getElementById(id), {
    type: 'scatter',
    data: {datasets: [
      {label: 'QC', data: qc.map((v, i) => ({x: i * qcEvery, y: v * 1e6})), backgroundColor: '#E5231F', borderColor: '#4a0d0d', pointBorderWidth: 0.5, pointRadius: 2.6},
      {label: 'Sample', data: samples.map((v, i) => ({x: i * sampleEvery, y: v * 1e6})), backgroundColor: '#5DB944', borderColor: '#24501a', pointBorderWidth: 0.5, pointRadius: 2.4}
    ]},
    options: {
      events: [],
      layout: {padding: {left: 0, top: 36, right: padRight, bottom: 0}},
      scales: {
        x: {type: 'linear', min: -59, max: 1210, afterBuildTicks: fixTicks(injTicks), afterFit: s => { s.height = 16; },
          ticks: {autoSkip: false, maxRotation: 0, padding: 0, color: '#333', font: {size: 6.5, lineHeight: 1}, callback: plain},
          grid: {drawOnChartArea: false, tickLength: 1.5, tickColor: '#333'}, border: {display: false},
          title: {display: true, text: 'Injection', color: '#111', font: {size: 7, weight: 'bold', lineHeight: 1}, padding: {top: 0, bottom: 0.8}}},
        y: {type: 'linear', min: -8.5e5, max: 1.585e7, afterBuildTicks: fixTicks(intensityTicks), afterFit: s => { s.width = showY ? 45 : 5; },
          ticks: {display: showY, padding: 1.5, color: '#333', font: {size: 6, lineHeight: 1}, callback: v => v.toExponential(1).replace(/e\+(\d)$/, 'e+0$1')},
          grid: {drawOnChartArea: false, tickLength: 1.5, tickColor: '#333'}, border: {display: false},
          title: {display: showY, text: 'Intensity (MS counts)', color: '#111', font: {size: 6.5, weight: 'bold', lineHeight: 1}, padding: {top: 10.4, bottom: 0}}}
      }
    },
    plugins: [eDecor, frame('#3a3a3a', 1.2)]
  });
}
eChart('ce1', sampleBefore, qcBefore, true, 3);
eChart('ce2', sampleAfter, qcAfter, false, 7);

// ================= Text, legends, panel letters =================
txt('a', 27, 5, 19, true);
txt('b', 378, 8, 18, true);
txt('c', 379, 283, 18, true);
txt('d', 6, 564, 20, true);
txt('e', 421, 568, 20, true);

// States legend
txt('States', 307, 223, 8.5, false, 'l');
const legendY = [236.7, 250.6, 264.5, 278.4, 292.3];
stateNames.forEach((n, k) => {
  box(307, legendY[k] - 6.5, 12, 13, '#f2f2f2');
  box(313 - 2.6, legendY[k] - 2.6, 5.2, 5.2, stateColors[stateKeys[k]], true);
  txt(n, 322.3, legendY[k], 7, false, 'l');
});

// Panel d texts
txt('BEFORE', 107, 576, 8.5, true);
txt('AFTER', 292, 576, 8.5, true);
txt('Cytokines', 35, 770, 4, false, null, '#333');
txt('Cytokines', 322, 770, 4, false, null, '#333');
txt('SampleNames', 347, 546, 3.2, false, 'l', '#333');
const sampleLegY = [554.3, 560, 565.7, 571.3, 577];
sampleNames.forEach((n, k) => {
  box(347, sampleLegY[k] - 2.3, 4.6, 4.6, '#f2f2f2');
  box(349.3 - 1.3, sampleLegY[k] - 1.3, 2.6, 2.6, sampleColors[k], true);
  txt(n, 352.6, sampleLegY[k], 2.8, false, 'l', '#444');
});

// Panel e texts
txt('L-Lysine - HILIC ESI(+)MS', 612, 573, 7.5, true);
txt('Before Normalization', 527, 592, 7, true);
txt('After Normalization', 702, 592, 7, true);
txt('Columns', 409, 606, 7, true, 'l');
txt('Blocks', 417, 616, 7, true, 'l');
function eLegend(x0) {
  box(x0, 623, 33, 18, '#ffffff');
  box(x0 + 3 - 2.4, 628 - 2.4, 4.8, 4.8, '#E5231F', true);
  txt('QC', x0 + 6.5, 628, 7, true, 'l');
  box(x0 + 3 - 2.4, 636 - 2.4, 4.8, 4.8, '#5DB944', true);
  txt('Sample', x0 + 6.5, 636, 7, true, 'l');
}
eLegend(445);
eLegend(619);
</script>
</body></html>
